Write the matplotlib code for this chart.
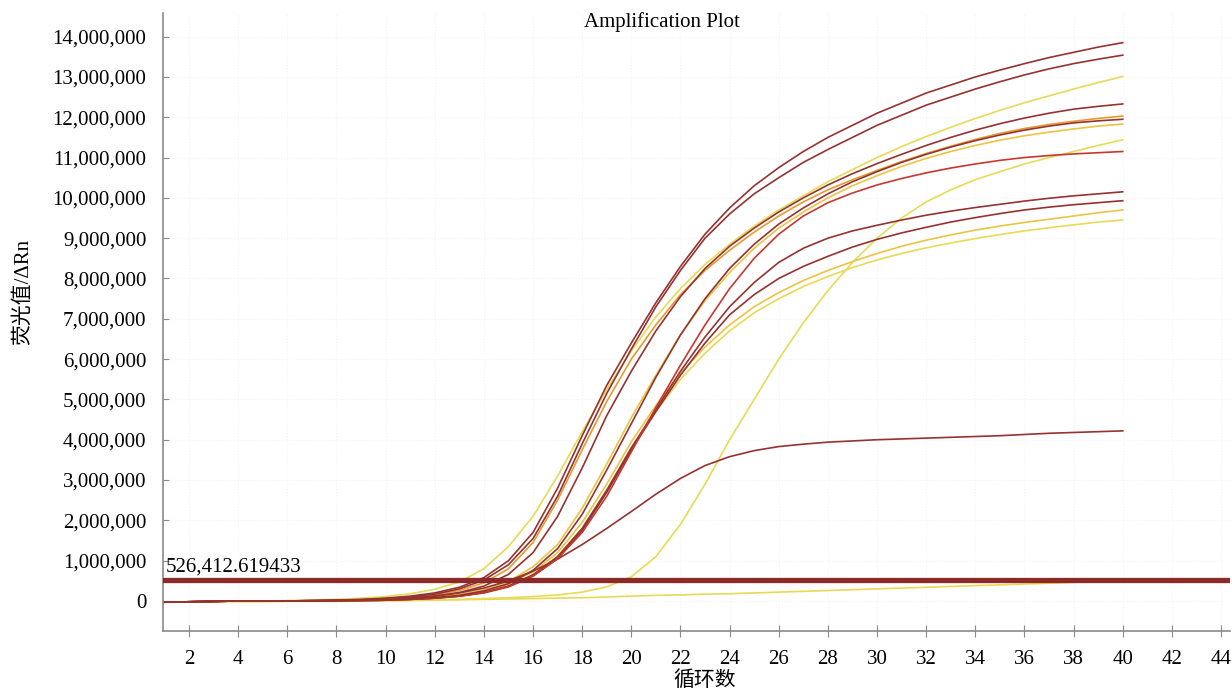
import matplotlib.pyplot as plt
import numpy as np
from matplotlib.ticker import FuncFormatter

cycles = np.arange(1, 41)

# 各孔扩增曲线 (单位: 百万)
d1 = [-0.03, -0.02, -0.01, 0, 0, 0, 0.01, 0.02, 0.04, 0.07,
      0.12, 0.2, 0.34, 0.58, 1.0, 1.7, 2.8, 4.1, 5.35, 6.4,
      7.4, 8.3, 9.1, 9.75, 10.3, 10.75, 11.15, 11.5, 11.8, 12.1,
      12.35, 12.6, 12.8, 13.0, 13.17, 13.33, 13.48, 13.61, 13.74, 13.85]
d2 = [-0.03, -0.02, -0.01, 0, 0, 0, 0.01, 0.02, 0.03, 0.06,
      0.1, 0.17, 0.3, 0.52, 0.9, 1.55, 2.6, 3.9, 5.15, 6.25,
      7.3, 8.2, 9.0, 9.6, 10.1, 10.5, 10.88, 11.2, 11.5, 11.8,
      12.05, 12.3, 12.5, 12.7, 12.88, 13.05, 13.2, 13.33, 13.44, 13.54]
y1 = [-0.03, -0.02, -0.01, 0, 0, 0.01, 0.02, 0.04, 0.07, 0.11,
      0.18, 0.29, 0.47, 0.8, 1.35, 2.1, 3.1, 4.2, 5.25, 6.2,
      7.05, 7.75, 8.35, 8.85, 9.3, 9.7, 10.05, 10.4, 10.7, 11.0,
      11.27, 11.52, 11.75, 11.97, 12.17, 12.36, 12.53, 12.7, 12.86, 13.01]
o1 = [-0.03, -0.02, -0.01, 0, 0, 0, 0.01, 0.02, 0.03, 0.05,
      0.09, 0.15, 0.26, 0.45, 0.8, 1.45, 2.5, 3.75, 4.95, 6.0,
      6.85, 7.6, 8.2, 8.7, 9.15, 9.55, 9.9, 10.2, 10.45, 10.68,
      10.9, 11.1, 11.28, 11.45, 11.6, 11.72, 11.82, 11.9, 11.97, 12.03]
d3 = [-0.03, -0.02, -0.01, 0, 0, 0, 0.01, 0.01, 0.02, 0.04,
      0.07, 0.12, 0.21, 0.37, 0.66, 1.2, 2.1, 3.3, 4.6, 5.7,
      6.7, 7.55, 8.25, 8.8, 9.25, 9.65, 10.0, 10.32, 10.6, 10.85,
      11.08, 11.3, 11.5, 11.68, 11.84, 11.98, 12.1, 12.2, 12.27, 12.33]
y2 = [-0.03, -0.02, -0.01, 0, 0, 0, 0, 0.01, 0.02, 0.03,
      0.05, 0.09, 0.16, 0.28, 0.48, 0.85, 1.4, 2.3, 3.4, 4.55,
      5.6, 6.6, 7.45, 8.15, 8.75, 9.25, 9.65, 10.0, 10.3, 10.55,
      10.78, 10.98, 11.15, 11.3, 11.43, 11.54, 11.63, 11.71, 11.78, 11.83]
d4 = [-0.03, -0.02, -0.01, 0, 0, 0, 0, 0.01, 0.02, 0.03,
      0.05, 0.08, 0.14, 0.25, 0.43, 0.76, 1.3, 2.15, 3.25, 4.4,
      5.55, 6.6, 7.5, 8.25, 8.85, 9.35, 9.75, 10.1, 10.4, 10.65,
      10.88, 11.08, 11.26, 11.42, 11.56, 11.68, 11.78, 11.86, 11.91, 11.95]
d5 = [-0.03, -0.02, -0.01, 0, 0, 0, 0, 0.01, 0.01, 0.02,
      0.04, 0.07, 0.12, 0.21, 0.36, 0.62, 1.05, 1.7, 2.6, 3.7,
      4.8, 5.85, 6.85, 7.75, 8.5, 9.1, 9.55, 9.88, 10.12, 10.32,
      10.48, 10.62, 10.74, 10.84, 10.93, 11.0, 11.05, 11.09, 11.12, 11.15]
d6 = [-0.03, -0.02, -0.01, 0, 0, 0, 0, 0.01, 0.01, 0.02,
      0.04, 0.07, 0.12, 0.21, 0.37, 0.65, 1.1, 1.8, 2.75, 3.8,
      4.75, 5.7, 6.55, 7.3, 7.9, 8.4, 8.75, 9.0, 9.18, 9.32,
      9.45, 9.57, 9.67, 9.76, 9.84, 9.92, 9.99, 10.05, 10.1, 10.15]
d7 = [-0.03, -0.02, -0.01, 0, 0, 0, 0, 0.01, 0.01, 0.02,
      0.04, 0.07, 0.12, 0.2, 0.35, 0.62, 1.05, 1.75, 2.7, 3.75,
      4.7, 5.6, 6.4, 7.1, 7.6, 8.0, 8.3, 8.55, 8.78, 8.97,
      9.13, 9.27, 9.4, 9.51, 9.61, 9.7, 9.77, 9.83, 9.88, 9.93]
y4 = [-0.03, -0.02, -0.01, 0, 0, 0, 0, 0.01, 0.02, 0.03,
      0.05, 0.08, 0.14, 0.24, 0.42, 0.72, 1.2, 1.95, 2.9, 3.95,
      4.85, 5.65, 6.3, 6.85, 7.3, 7.65, 7.95, 8.2, 8.42, 8.62,
      8.8, 8.95, 9.08, 9.2, 9.3, 9.39, 9.47, 9.55, 9.63, 9.7]
y5 = [-0.03, -0.02, -0.01, 0, 0, 0, 0, 0.01, 0.02, 0.03,
      0.05, 0.08, 0.13, 0.22, 0.38, 0.65, 1.1, 1.8, 2.7, 3.75,
      4.7, 5.5, 6.15, 6.7, 7.15, 7.5, 7.8, 8.05, 8.27, 8.46,
      8.62, 8.76, 8.88, 8.99, 9.09, 9.18, 9.26, 9.33, 9.4, 9.45]
d8 = [-0.03, -0.02, -0.01, 0, 0, 0, 0, 0.01, 0.02, 0.04,
      0.07, 0.12, 0.2, 0.32, 0.5, 0.74, 1.04, 1.4, 1.8, 2.22,
      2.65, 3.04, 3.36, 3.58, 3.73, 3.83, 3.89, 3.94, 3.97, 4.0,
      4.02, 4.04, 4.06, 4.08, 4.1, 4.13, 4.16, 4.18, 4.2, 4.22]
y3 = [-0.03, -0.02, -0.01, 0, 0, 0, 0, 0, 0.01, 0.01,
      0.02, 0.03, 0.04, 0.06, 0.08, 0.11, 0.15, 0.22, 0.35, 0.6,
      1.1, 1.9, 2.9, 4.0, 5.0, 6.0, 6.9, 7.7, 8.4, 9.0,
      9.5, 9.9, 10.2, 10.45, 10.65, 10.84, 11.0, 11.15, 11.3, 11.44]
y6 = [-0.03, -0.03, -0.02, -0.02, -0.02, -0.01, -0.01, -0.01, 0, 0,
      0.01, 0.02, 0.03, 0.04, 0.05, 0.06, 0.07, 0.08, 0.1, 0.12,
      0.14, 0.15, 0.17, 0.18, 0.2, 0.22, 0.24, 0.26, 0.28, 0.3,
      0.32, 0.34, 0.36, 0.38, 0.4, 0.42, 0.44, 0.46, 0.48, 0.5]

threshold = 526412.619433

yellow = '#e8da55'
yel_or = '#ebc443'
orange = '#e89a30'
red = '#c8372d'
dkred = '#943330'

# 先画黄色, 再画红色
curves = [(y6, yellow), (y3, yellow), (y5, yellow), (y4, yel_or), (y1, yellow),
          (y2, yel_or), (o1, orange), (d8, dkred), (d7, dkred), (d6, dkred),
          (d5, red), (d4, dkred), (d3, dkred), (d2, dkred), (d1, dkred)]

serif = ['Liberation Serif', 'Noto Sans CJK SC']

fig = plt.figure(figsize=(12.32, 6.93), dpi=100)
ax = fig.add_axes([0.1323, 0.0895, 0.866, 0.892])

for vals, c in curves:
    ax.plot(cycles, np.array(vals) * 1e6, color=c, lw=1.2)

ax.axhline(threshold, color='#8b2a27', lw=3.8, zorder=5)
ax.text(1.05, threshold + 0.09e6, '526,412.619433', fontsize=15, family=serif,
        ha='left', va='bottom')

ax.set_xlim(0.94, 44.36)
ax.set_ylim(-0.744e6, 14.59e6)
ax.set_xticks(np.arange(2, 45, 2))
ax.set_yticks(np.arange(0, 14.1e6, 1e6))
ax.yaxis.set_major_formatter(FuncFormatter(lambda v, p: f'{int(round(v)):,}'))

ax.grid(True, color='#f4f4f4', ls=':', lw=0.8)
ax.set_axisbelow(True)

for s in ['top', 'right']:
    ax.spines[s].set_visible(False)
for s in ['left', 'bottom']:
    ax.spines[s].set_color('#8a8a8a')
    ax.spines[s].set_linewidth(1.2)

ax.tick_params(axis='x', direction='inout', length=8, color='#8a8a8a', pad=10)
ax.tick_params(axis='y', direction='in', length=4, color='#8a8a8a', pad=12)
for lab in ax.get_xticklabels() + ax.get_yticklabels():
    lab.set_family(serif)
    lab.set_fontsize(15)

ax.text(0.468, 0.985, 'Amplification Plot', transform=ax.transAxes,
        ha='center', va='center', fontsize=15, family=serif)
ax.set_xlabel('循环数', fontsize=15, family=serif)
ax.set_ylabel('荧光值/ΔRn', fontsize=15, family=serif)
ax.xaxis.set_label_coords(0.508, -0.064)
ax.yaxis.set_label_coords(-0.122, 0.549)

fig.savefig('out.png', dpi=100, facecolor='white')
